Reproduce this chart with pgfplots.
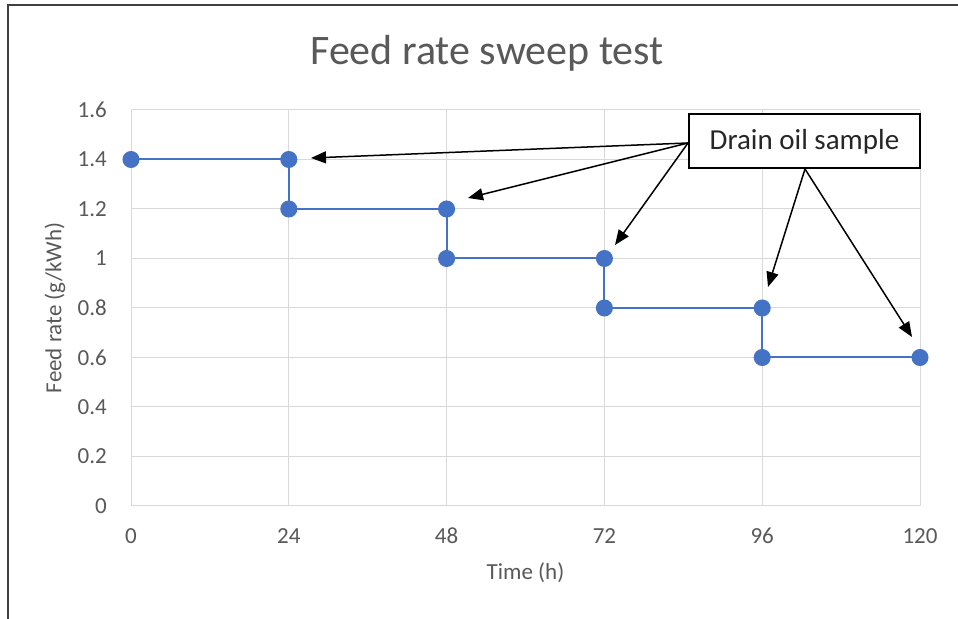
\documentclass[border=0pt]{standalone}
\usepackage{pgfplots}
\pgfplotsset{compat=1.18}
\usepackage{fontspec}
\setmainfont{Carlito}
\usetikzlibrary{arrows.meta}
\definecolor{txtgray}{HTML}{595959}
\definecolor{gridgray}{HTML}{D9D9D9}
\definecolor{xlblue}{HTML}{4472C4}
\definecolor{framegray}{HTML}{404040}
\begin{document}
\begin{tikzpicture}
\begin{scope}[x=1bp,y=1bp]
\path[use as bounding box] (0,0) rectangle (958,619);
\fill[white] (0,0) rectangle (958,619);
\draw[framegray, line width=2bp] (7.5,0) -- (7.5,614) -- (958,614);
\node[txtgray, font=\fontsize{42bp}{46bp}\selectfont, anchor=base] at (487,554) {Feed rate sweep test};
\end{scope}
\begin{axis}[
  at={(131bp,113bp)}, anchor=south west,
  scale only axis, width=789bp, height=396bp,
  xmin=0, xmax=120, ymin=0, ymax=1.6,
  xtick={0,24,48,72,96,120},
  ytick={0,0.2,0.4,0.6,0.8,1,1.2,1.4,1.6},
  yticklabels={0,0.2,0.4,0.6,0.8,1,1.2,1.4,1.6},
  grid=major,
  major grid style={gridgray, line width=1bp},
  axis line style={draw=none},
  major tick length=0pt,
  tick label style={txtgray, font=\fontsize{23bp}{26bp}\selectfont},
  /pgf/number format/assume math mode=true,
  yticklabel style={inner sep=0pt, xshift=-24bp},
  xticklabel style={inner sep=0pt, yshift=-22bp},
  xlabel={Time (h)},
  ylabel={Feed rate (g/kWh)},
  label style={txtgray, font=\fontsize{23bp}{26bp}\selectfont},
  xlabel style={at={(axis description cs:0.5,-0.169)}, anchor=center},
  ylabel style={at={(axis description cs:-0.0963,0.5)}, anchor=center},
  clip=false,
]
\addplot[xlblue, line width=2bp, mark=*, mark size=7.5bp, mark options={fill=xlblue, draw=xlblue}]
coordinates {(0,1.4) (24,1.4) (24,1.2) (48,1.2) (48,1.0) (72,1.0) (72,0.8) (96,0.8) (96,0.6) (120,0.6)};
\end{axis}
\begin{scope}[x=1bp,y=1bp]
\begin{scope}[black, line width=1.5bp, -{Triangle[length=15bp,width=12bp]}]
\draw (688,476) -- (311,461);
\draw (688,476) -- (468,421);
\draw (688,476) -- (615,374);
\draw (805,450) -- (768,332);
\draw (805,450) -- (912,282);
\end{scope}
\draw[black, line width=1.5bp, fill=white] (689,505) rectangle (920,451);
\node[black!85, font=\fontsize{29bp}{32bp}\selectfont] at (804.5,477.5) {Drain oil sample};
\end{scope}
\end{tikzpicture}
\end{document}
